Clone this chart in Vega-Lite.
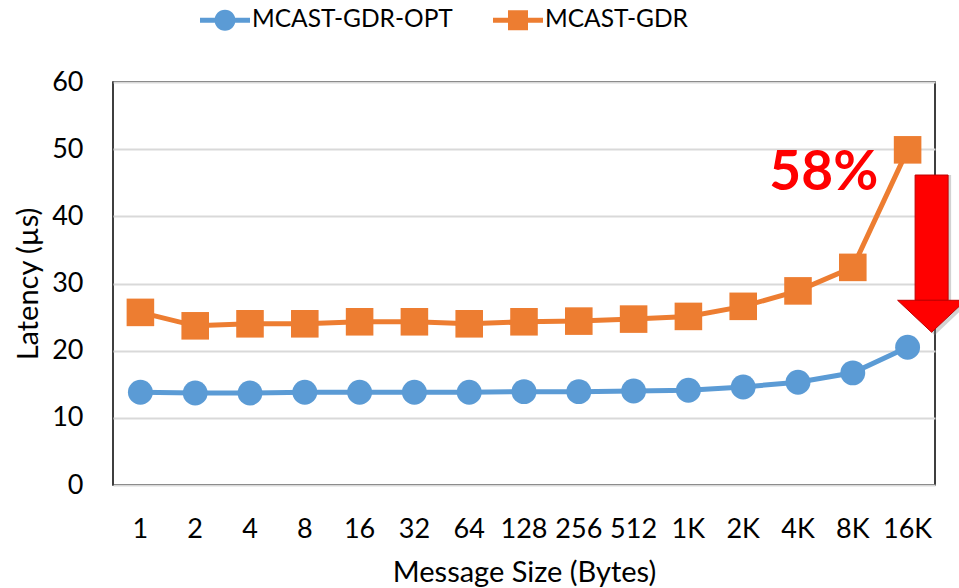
{
  "$schema": "https://vega.github.io/schema/vega-lite/v6.json",
  "width": 822,
  "height": 403,
  "autosize": {"type": "none"},
  "padding": {"left": 113, "top": 82, "right": 24, "bottom": 103},
  "background": "white",
  "config": {
    "font": "Lato",
    "view": {"stroke": "#000000", "strokeWidth": 1.5},
    "axis": {"labelColor": "#000000", "titleColor": "#000000", "labelFont": "Lato", "titleFont": "Lato"}
  },
  "datasets": {
    "latency": [
      {"size": "1", "series": "MCAST-GDR-OPT", "latency": 13.8},
      {"size": "2", "series": "MCAST-GDR-OPT", "latency": 13.7},
      {"size": "4", "series": "MCAST-GDR-OPT", "latency": 13.7},
      {"size": "8", "series": "MCAST-GDR-OPT", "latency": 13.8},
      {"size": "16", "series": "MCAST-GDR-OPT", "latency": 13.8},
      {"size": "32", "series": "MCAST-GDR-OPT", "latency": 13.8},
      {"size": "64", "series": "MCAST-GDR-OPT", "latency": 13.8},
      {"size": "128", "series": "MCAST-GDR-OPT", "latency": 13.9},
      {"size": "256", "series": "MCAST-GDR-OPT", "latency": 13.9},
      {"size": "512", "series": "MCAST-GDR-OPT", "latency": 14.0},
      {"size": "1K", "series": "MCAST-GDR-OPT", "latency": 14.1},
      {"size": "2K", "series": "MCAST-GDR-OPT", "latency": 14.6},
      {"size": "4K", "series": "MCAST-GDR-OPT", "latency": 15.3},
      {"size": "8K", "series": "MCAST-GDR-OPT", "latency": 16.7},
      {"size": "16K", "series": "MCAST-GDR-OPT", "latency": 20.5},
      {"size": "1", "series": "MCAST-GDR", "latency": 25.7},
      {"size": "2", "series": "MCAST-GDR", "latency": 23.7},
      {"size": "4", "series": "MCAST-GDR", "latency": 24.0},
      {"size": "8", "series": "MCAST-GDR", "latency": 24.0},
      {"size": "16", "series": "MCAST-GDR", "latency": 24.3},
      {"size": "32", "series": "MCAST-GDR", "latency": 24.3},
      {"size": "64", "series": "MCAST-GDR", "latency": 24.0},
      {"size": "128", "series": "MCAST-GDR", "latency": 24.3},
      {"size": "256", "series": "MCAST-GDR", "latency": 24.4},
      {"size": "512", "series": "MCAST-GDR", "latency": 24.7},
      {"size": "1K", "series": "MCAST-GDR", "latency": 25.1},
      {"size": "2K", "series": "MCAST-GDR", "latency": 26.6},
      {"size": "4K", "series": "MCAST-GDR", "latency": 28.9},
      {"size": "8K", "series": "MCAST-GDR", "latency": 32.4},
      {"size": "16K", "series": "MCAST-GDR", "latency": 49.9}
    ],
    "note": [
      {"size": "8K", "label": "58%", "at": 43.9},
      {"size": "16K", "label": "arrow", "at": 27.5}
    ]
  },
  "encoding": {
    "x": {
      "field": "size",
      "type": "nominal",
      "sort": null,
      "scale": {"domain": ["1", "2", "4", "8", "16", "32", "64", "128", "256", "512", "1K", "2K", "4K", "8K", "16K"]},
      "axis": {
        "title": "Message Size (Bytes)",
        "labelAngle": 0,
        "labelFontSize": 27,
        "labelPadding": 31,
        "ticks": false,
        "domain": false,
        "titleFontSize": 29,
        "titleFontWeight": "normal",
        "titlePadding": 16
      }
    },
    "y": {
      "field": "latency",
      "type": "quantitative",
      "scale": {"domain": [0, 60]},
      "axis": {
        "title": "Latency (µs)",
        "values": [0, 10, 20, 30, 40, 50, 60],
        "labelFontSize": 27,
        "labelPadding": 30,
        "ticks": false,
        "domain": false,
        "gridColor": "#D9D9D9",
        "gridWidth": 2,
        "titleFontSize": 29,
        "titleFontWeight": "normal",
        "titlePadding": 8
      }
    }
  },
  "layer": [
    {
      "data": {"name": "latency"},
      "mark": {"type": "line", "strokeWidth": 5},
      "encoding": {
        "color": {
          "field": "series",
          "type": "nominal",
          "scale": {"domain": ["MCAST-GDR-OPT", "MCAST-GDR"], "range": ["#5B9BD5", "#ED7D31"]},
          "legend": {
            "title": null,
            "orient": "none",
            "direction": "horizontal",
            "legendX": 87,
            "legendY": -87,
            "symbolSize": 2500,
            "labelFontSize": 24.5,
            "labelFont": "Lato",
            "labelColor": "#000000",
            "labelLimit": 0,
            "labelOffset": 2,
            "columnPadding": 40,
            "encode": {
              "symbols": {
                "update": {
                  "shape": {"signal": "datum.value === 'MCAST-GDR' ? 'M-1,-0.1 L1,-0.1 L1,0.1 L-1,0.1 Z M-0.4,-0.4 L0.4,-0.4 L0.4,0.4 L-0.4,0.4 Z' : 'M-1,-0.1 L1,-0.1 L1,0.1 L-1,0.1 Z M-0.42,0 A0.42,0.42 0 1,1 0.42,0 A0.42,0.42 0 1,1 -0.42,0 Z'"},
                  "fill": {"signal": "datum.value === 'MCAST-GDR' ? '#ED7D31' : '#5B9BD5'"},
                  "fillOpacity": {"value": 1},
                  "opacity": {"value": 1},
                  "strokeWidth": {"value": 0}
                }
              }
            }
          }
        }
      }
    },
    {
      "data": {"name": "latency"},
      "transform": [{"filter": "datum.series == 'MCAST-GDR-OPT'"}],
      "mark": {"type": "point", "filled": true, "opacity": 1, "shape": "circle", "size": 620},
      "encoding": {
        "color": {"field": "series", "type": "nominal"}
      }
    },
    {
      "data": {"name": "latency"},
      "transform": [{"filter": "datum.series == 'MCAST-GDR'"}],
      "mark": {"type": "point", "filled": true, "opacity": 1, "shape": "square", "size": 760},
      "encoding": {
        "color": {"field": "series", "type": "nominal"}
      }
    },
    {
      "data": {"name": "note"},
      "transform": [{"filter": "datum.label == '58%'"}],
      "mark": {"type": "text", "font": "Lato", "fontSize": 55, "fontWeight": "bold", "color": "#FF0000", "align": "center", "baseline": "alphabetic", "xOffset": -29},
      "encoding": {
        "y": {"field": "at", "type": "quantitative"},
        "text": {"field": "label"}
      }
    },
    {
      "data": {"name": "note"},
      "transform": [{"filter": "datum.label == 'arrow'"}],
      "mark": {"type": "bar", "width": 33, "xOffset": 27, "yOffset": 3, "color": "#7F7F7F", "opacity": 0.35},
      "encoding": {
        "y": {"field": "at", "type": "quantitative"},
        "y2": {"datum": 46.15}
      }
    },
    {
      "data": {"name": "note"},
      "transform": [{"filter": "datum.label == 'arrow'"}],
      "mark": {"type": "point", "filled": true, "shape": "M-1,0 L1,0 L0,0.94 Z", "size": 4624, "xOffset": 27, "yOffset": 3, "color": "#7F7F7F", "opacity": 0.35},
      "encoding": {
        "y": {"field": "at", "type": "quantitative"}
      }
    },
    {
      "data": {"name": "note"},
      "transform": [{"filter": "datum.label == 'arrow'"}],
      "mark": {"type": "bar", "width": 33, "xOffset": 24, "color": "#FF0000", "stroke": "#C00000", "strokeWidth": 1},
      "encoding": {
        "y": {"field": "at", "type": "quantitative"},
        "y2": {"datum": 46.15}
      }
    },
    {
      "data": {"name": "note"},
      "transform": [{"filter": "datum.label == 'arrow'"}],
      "mark": {"type": "point", "filled": true, "shape": "M-1,0 L1,0 L0,0.94 Z", "size": 4624, "xOffset": 24, "color": "#FF0000", "stroke": "#C00000", "strokeWidth": 1, "opacity": 1},
      "encoding": {
        "y": {"field": "at", "type": "quantitative"}
      }
    }
  ]
}
